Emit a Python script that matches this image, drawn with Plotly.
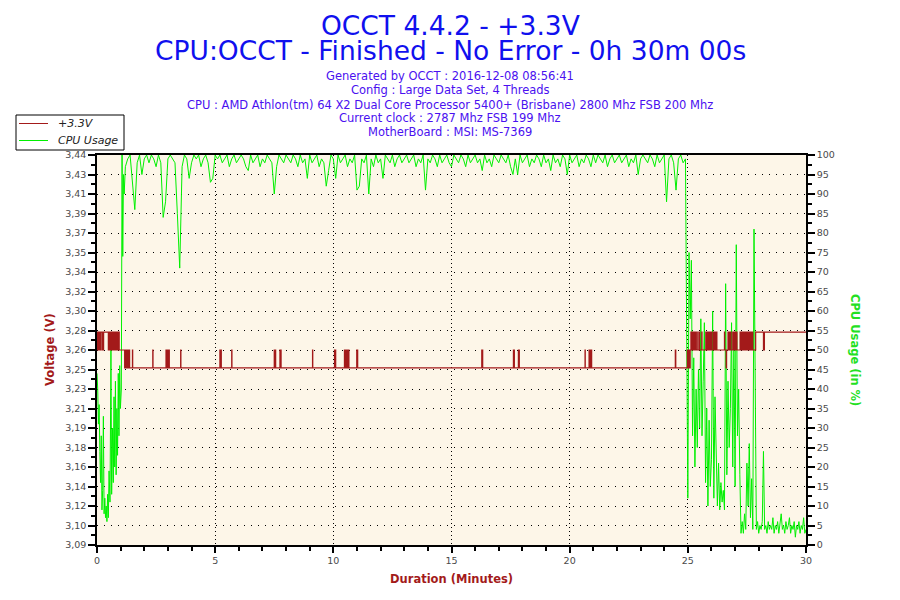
import numpy as np
import plotly.graph_objects as go

# header text
TITLE_LINES = ["OCCT 4.4.2 - +3.3V", "CPU:OCCT - Finished - No Error - 0h 30m 00s"]
INFO_LINES = [
    "Generated by OCCT : 2016-12-08 08:56:41",
    "Config : Large Data Set, 4 Threads",
    "CPU : AMD Athlon(tm) 64 X2 Dual Core Processor 5400+ (Brisbane) 2800 Mhz FSB 200 Mhz",
    "Current clock : 2787 Mhz FSB 199 Mhz",
    "MotherBoard : MSI: MS-7369",
]
LEGEND_NAMES = ["+3.3V", "CPU Usage"]

# left axis labels (as printed by OCCT)
VOLT_TICKS = ["3,09", "3,10", "3,12", "3,14", "3,16", "3,18", "3,19", "3,21", "3,23", "3,25", "3,26",
              "3,28", "3,30", "3,32", "3,34", "3,35", "3,37", "3,39", "3,41", "3,43", "3,44"]

# +3.3V rail: the sensor only reports three levels
VOLT_LEVELS = [3.249, 3.265, 3.281]
# minute at which the reading changes, and the level index it changes to
VOLT_T = [0.00, 0.02, 0.05, 0.08, 0.10, 0.13, 0.15, 0.21, 0.24, 0.27, 0.28,
          0.48, 0.50, 0.53, 0.55, 0.58, 0.60, 0.63, 0.65, 0.68, 0.70, 0.73, 0.75, 0.78, 0.80, 0.83, 0.85, 0.88, 0.90, 0.94,
          1.17, 1.20, 1.22, 1.25, 1.28, 1.30, 1.33, 1.35, 1.38,
          1.50, 1.51, 2.36, 2.37,
          2.92, 2.94, 2.97, 3.00, 3.03, 3.06,
          3.54, 3.55, 5.20, 5.22, 5.24, 5.26, 5.70, 5.71,
          7.50, 7.53, 7.54, 7.56, 7.74, 7.76, 7.77, 7.79,
          9.12, 9.13, 10.05, 10.07, 10.08, 10.10,
          10.47, 10.50, 10.51, 10.55, 10.56, 10.60, 10.61, 10.66,
          10.99, 11.01, 11.02, 11.03,
          16.28, 16.32, 17.62, 17.64, 17.65, 17.66, 17.83, 17.85, 17.86, 17.87,
          20.65, 20.66, 20.82, 20.85, 20.86, 20.89, 20.90, 20.93,
          24.47, 24.49,
          24.98, 25.00, 25.03, 25.06, 25.10,
          25.13, 25.15, 25.17, 25.19, 25.21, 25.23, 25.25, 25.27, 25.29, 25.31,
          25.35, 25.36, 25.42, 25.43, 25.49, 25.50, 25.59, 25.60,
          25.76, 25.78, 25.80, 25.82, 25.84, 25.86, 25.88, 25.90, 25.92, 25.94, 25.96, 25.98, 26.00, 26.02,
          26.08, 26.10, 26.12, 26.14, 26.16, 26.18, 26.20, 26.23,
          26.55, 26.56, 26.62, 26.64,
          26.70, 26.72, 26.76, 26.78, 26.82, 26.83, 26.90, 26.92, 26.96, 26.98, 27.02, 27.04, 27.07, 27.08,
          27.21, 27.23, 27.26, 27.30, 27.33, 27.36, 27.40, 27.42, 27.46, 27.50, 27.53, 27.57, 27.60, 27.63,
          27.66, 27.70, 27.72, 27.75,
          27.87, 28.20, 28.24, 30.00]
VOLT_LVL = [2, 1, 2, 1, 2, 1, 2, 1, 2, 1, 2,
            1, 2, 1, 2, 1, 2, 1, 2, 1, 2, 1, 2, 1, 2, 1, 2, 1, 2, 1,
            0, 1, 0, 1, 0, 1, 0, 1, 0,
            1, 0, 1, 0,
            1, 0, 1, 0, 1, 0,
            1, 0, 1, 0, 1, 0, 1, 0,
            1, 0, 1, 0, 1, 0, 1, 0,
            1, 0, 1, 0, 1, 0,
            1, 0, 1, 0, 1, 0, 1, 0,
            1, 0, 1, 0,
            1, 0, 1, 0, 1, 0, 1, 0, 1, 0,
            1, 0, 1, 0, 1, 0, 1, 0,
            1, 0,
            1, 0, 1, 0, 1,
            2, 1, 2, 1, 2, 1, 2, 1, 2, 1,
            2, 1, 2, 1, 2, 1, 2, 1,
            2, 1, 2, 1, 2, 1, 2, 1, 2, 1, 2, 1, 2, 1,
            2, 1, 2, 1, 2, 1, 2, 1,
            2, 1, 0, 1,
            2, 1, 2, 1, 2, 1, 2, 1, 2, 1, 2, 1, 2, 1,
            2, 1, 2, 1, 2, 1, 2, 1, 2, 1, 2, 1, 2, 1,
            2, 1, 2, 1,
            2, 1, 2, 2]

# CPU usage (%) - warm-up, irregular samples
CPU_START_T = [0.00, 0.03, 0.06, 0.09, 0.12, 0.15, 0.18, 0.21, 0.24, 0.27, 0.30, 0.33, 0.36, 0.39,
               0.42, 0.45, 0.48, 0.51, 0.55, 0.59, 0.62, 0.66, 0.69, 0.72, 0.75, 0.78, 0.81, 0.84,
               0.87, 0.90, 0.93, 0.96, 0.99, 1.03, 1.06, 1.09, 1.12, 1.15]
CPU_START_V = [44, 40, 31, 36, 24, 16, 28, 9, 14, 33, 8, 12, 7, 10,
               6, 13, 7, 19, 11, 50, 13, 30, 16, 38, 20, 42, 18, 35,
               23, 44, 28, 46, 35, 40, 100, 74, 95, 90]

# CPU usage (%) during the load test, one value every 0.1 min from 1.2 min
CPU_MID_V = [97, 99, 100, 93, 86, 98, 100, 95, 99, 100,
             98, 100, 99, 97, 100, 98, 84, 88, 99, 100,
             99, 98, 85, 71, 97, 100, 99, 94, 98, 100,
             99, 100, 97, 99, 100, 98, 93, 94, 100, 99,
             100, 98, 99, 100, 97, 99, 100, 98, 99, 100,
             99, 97, 96, 100, 98, 99, 100, 97, 99, 98,
             100, 99, 98, 90, 97, 100, 99, 98, 100, 99,
             98, 100, 99, 97, 100, 98, 99, 94, 100, 98,
             99, 100, 97, 99, 98, 92, 96, 100, 99, 94,
             100, 98, 99, 100, 97, 99, 98, 100, 91, 92,
             99, 98, 100, 90, 99, 97, 100, 98, 99, 94,
             100, 99, 98, 100, 97, 99, 100, 98, 99, 100,
             98, 99, 100, 97, 99, 98, 100, 91, 99, 98,
             100, 99, 97, 100, 98, 99, 100, 98, 97, 100,
             99, 98, 100, 99, 97, 100, 98, 99, 100, 98,
             99, 96, 100, 98, 99, 97, 100, 99, 98, 100,
             99, 98, 100, 97, 95, 99, 95, 100, 98, 99,
             100, 97, 99, 98, 100, 99, 97, 100, 98, 99,
             96, 100, 98, 99, 97, 100, 99, 95, 100, 98,
             99, 100, 97, 99, 98, 100, 99, 97, 100, 98,
             100, 99, 98, 100, 97, 99, 100, 98, 99, 100,
             98, 99, 100, 97, 99, 98, 100, 95, 99, 100,
             99, 98, 100, 99, 97, 100, 98, 99, 100, 88,
             99, 100, 98, 91, 99, 100, 98, 99]

# CPU usage (%) after the test, one value every 0.05 min from 25.0 min
CPU_END_V = [12, 75, 58, 73, 28, 48, 20, 40, 25, 45, 30, 58, 28, 42, 57, 16, 35, 10, 32, 15,
             22, 60, 12, 38, 18, 10, 21, 9, 16, 11, 14, 9, 67, 18, 42, 25, 35, 57, 20, 52,
             15, 77, 28, 40, 18, 3, 6, 3, 8, 4, 21, 10, 26, 7, 17, 4, 81, 45, 4, 6,
             3, 5, 4, 6, 24, 4, 5, 3, 6, 4, 5, 4, 7, 3, 5, 4, 6, 3, 5, 8,
             4, 5, 3, 6, 4, 5, 7, 3, 5, 4, 6, 2, 5, 4, 6, 3, 5, 4, 7, 3, 4]

RED = "#A31A1A"
GREEN = "#00F000"
FONT = "DejaVu Sans"

# the page puts the plot 8px in from the corner, so the figure is 8px smaller
# and everything below is given in window pixels (plot box 97..806 x 155..545)
PL, PR, PT, PB = 97, 806, 155, 545


def px(x, y):
    return (x - PL) / (PR - PL), (PB - y) / (PB - PT)


cpu_t = (CPU_START_T
         + [round(1.2 + 0.1 * i, 2) for i in range(len(CPU_MID_V))]
         + [round(25.0 + 0.05 * i, 2) for i in range(len(CPU_END_V))])
cpu_v = CPU_START_V + CPU_MID_V + CPU_END_V
volt_v = [VOLT_LEVELS[k] for k in VOLT_LVL]

fig = go.Figure()

# CPU on the base (right) axis, voltage on the overlay so it draws on top
fig.add_trace(go.Scatter(x=cpu_t, y=cpu_v, mode="lines", name=LEGEND_NAMES[1],
                         line=dict(color=GREEN, width=1), yaxis="y"))
fig.add_trace(go.Scatter(x=VOLT_T, y=volt_v, mode="lines", name=LEGEND_NAMES[0],
                         line=dict(color=RED, width=1.2, shape="hv"), yaxis="y2"))

volt_vals = np.linspace(3.09, 3.44, len(VOLT_TICKS))
volt_minor = (volt_vals[:-1] + volt_vals[1:]) / 2

tickfont = dict(family=FONT, size=9.5, color="#4a4a4a")

fig.update_layout(
    width=892, height=592, autosize=False,
    margin=dict(l=PL - 8, r=892 - (PR - 8), t=PT - 8, b=592 - (PB - 8)),
    paper_bgcolor="white", plot_bgcolor="#FDF6E8",
    font=dict(family=FONT),
    showlegend=False,
    xaxis=dict(range=[0, 30], tickvals=[0, 5, 10, 15, 20, 25, 30],
               showline=True, linecolor="black", linewidth=1.5, mirror=True,
               ticks="outside", ticklen=6, tickwidth=1.5, tickcolor="black",
               tickfont=tickfont, zeroline=False,
               showgrid=True, gridcolor="black", gridwidth=1.3, griddash="1px,3px",
               minor=dict(dtick=1, ticks="outside", ticklen=4, tickcolor="black", showgrid=False)),
    yaxis=dict(range=[0, 100], side="right", tickmode="linear", tick0=0, dtick=5,
               showline=True, linecolor="black", linewidth=1.5,
               ticks="outside", ticklen=7, tickwidth=1.5, tickcolor="black",
               tickfont=tickfont, zeroline=False,
               showgrid=True, gridcolor="black", gridwidth=1.3, griddash="1px,6px",
               minor=dict(dtick=2.5, ticks="outside", ticklen=4, tickcolor="black", showgrid=False)),
    yaxis2=dict(range=[3.09, 3.44], overlaying="y", side="left",
                tickmode="array", tickvals=list(volt_vals), ticktext=VOLT_TICKS,
                showline=True, linecolor="black", linewidth=1.5,
                ticks="outside", ticklen=7, tickwidth=1.5, tickcolor="black",
                tickfont=tickfont, zeroline=False, showgrid=False,
                minor=dict(tickvals=list(volt_minor), ticks="outside", ticklen=4, tickcolor="black")),
)


def label(text, x, y, size, color, angle=0, anchor="center", vanchor="middle"):
    ax, ay = px(x, y)
    fig.add_annotation(text=text, x=ax, y=ay, xref="paper", yref="paper", showarrow=False,
                       textangle=angle, xanchor=anchor, yanchor=vanchor,
                       font=dict(family=FONT, size=size, color=color))


# header: two large title lines, then the system info lines
label(TITLE_LINES[0], 450, 8, 26.5, "#1010EE", vanchor="top")
label(TITLE_LINES[1], 450, 50, 26.5, "#1010EE")
for txt, y in zip(INFO_LINES, [76, 90.5, 104.5, 118, 131.5]):
    label(txt, 450, y, 11.5, "#4A10F0")

# axis titles
label("<b>Voltage (V)</b>", 50, 350, 11.5, RED, angle=-90)
label("<b>CPU Usage (in %)</b>", 855, 350, 11.5, "#22E022", angle=90)
label("<b>Duration (Minutes)</b>", 451, 579, 11.5, RED)

# boxed legend in the top-left corner
x0, y0 = px(16, 115)
x1, y1 = px(124, 150)
fig.add_shape(type="rect", xref="paper", yref="paper", x0=x0, y0=y0, x1=x1, y1=y1,
              line=dict(color="black", width=1), fillcolor="white")
for name, color, y in zip(LEGEND_NAMES, [RED, GREEN], [123.5, 140.5]):
    lx0, ly = px(19, y)
    lx1, _ = px(48, y)
    fig.add_shape(type="line", xref="paper", yref="paper", x0=lx0, y0=ly, x1=lx1, y1=ly,
                  line=dict(color=color, width=1))
    label("<i>" + name + "</i>", 56, y, 11, "#222222", anchor="left")

fig.write_html("out.html")
